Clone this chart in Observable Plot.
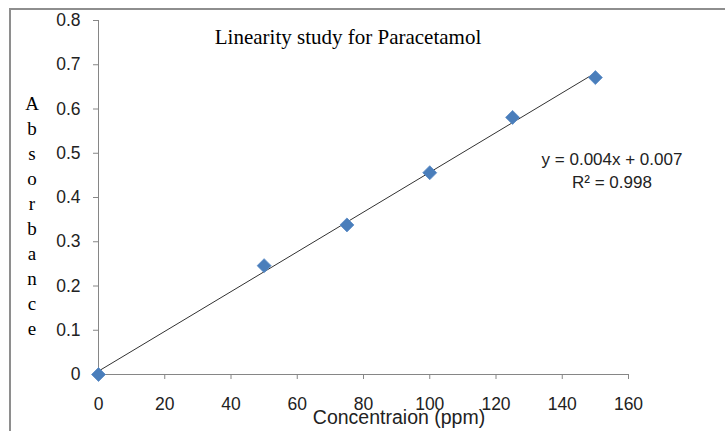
<!DOCTYPE html>
<html>
<head>
<meta charset="utf-8">
<script src="https://cdn.jsdelivr.net/npm/d3@7"></script>
<script src="https://cdn.jsdelivr.net/npm/@observablehq/plot@0.6"></script>
<style>
  html, body { margin: 0; padding: 0; background: #fff; overflow: hidden; }
  #wrap { position: relative; width: 725px; height: 431px; overflow: hidden; background: #fff; }
  #frame { position: absolute; left: 9px; top: 8px; width: 800px; height: 500px; border: 2px solid #8e8e8e; box-sizing: border-box; }
  #chart { position: absolute; left: 0; top: 0; }
  .ov { position: absolute; white-space: nowrap; color: #000; }
  #title { left: 348px; top: 25px; transform: translateX(-50%); font-family: "Liberation Serif", serif; font-size: 21px; }
  #ylabel { left: 23px; top: 91px; width: 18px; text-align: center; font-family: "Liberation Serif", serif; font-size: 19px; line-height: 25px; }
  #xlabel { left: 399px; top: 406px; transform: translateX(-50%); font-family: "Liberation Sans", sans-serif; font-size: 19.5px; color: #222; }
  #eq { left: 612px; top: 148px; transform: translateX(-50%); text-align: center; font-family: "Liberation Sans", sans-serif; font-size: 17px; line-height: 23px; color: #222; }
</style>
</head>
<body>
<div id="wrap">
  <div id="frame"></div>
  <div id="chart"></div>
  <div class="ov" id="title"></div>
  <div class="ov" id="ylabel"></div>
  <div class="ov" id="xlabel"></div>
  <div class="ov" id="eq"></div>
</div>
<script>
const concentration = [0, 50, 75, 100, 125, 150];
const absorbance = [0, 0.246, 0.338, 0.456, 0.581, 0.671];
const xTicks = [0, 20, 40, 60, 80, 100, 120, 140, 160];
const yTicks = [0, 0.1, 0.2, 0.3, 0.4, 0.5, 0.6, 0.7, 0.8];
const titleText = "Linearity study for Paracetamol";
const yLabelText = "Absorbance";
const xLabelText = "Concentraion (ppm)";
const equationLines = ["y = 0.004x + 0.007", "R² = 0.998"];

const data = concentration.map((c, i) => ({c, a: absorbance[i]}));
const axisColor = "#868686";

const chart = Plot.plot({
  width: 725,
  height: 431,
  marginLeft: 98,
  marginRight: 97,
  marginTop: 20,
  marginBottom: 57,
  style: {fontFamily: "'Liberation Sans', sans-serif", fontSize: "17.5px", color: "#222", background: "transparent"},
  x: {domain: [0, 160], ticks: xTicks, label: null},
  y: {domain: [0, 0.8], ticks: yTicks, label: null},
  marks: [
    Plot.ruleY([0], {stroke: axisColor, strokeWidth: 1}),
    Plot.ruleX([0], {stroke: axisColor, strokeWidth: 1}),
    Plot.axisX({ticks: xTicks, tickSize: 5, tickPadding: 18, stroke: axisColor, fill: "#222", label: null, tickFormat: d => String(d)}),
    Plot.axisY({ticks: yTicks, tickSize: 5, tickPadding: 13, stroke: axisColor, fill: "#222", label: null, tickFormat: d => d === 0 ? "0" : d.toFixed(1)}),
    Plot.linearRegressionY(data, {x: "c", y: "a", ci: 0, stroke: "#333", strokeWidth: 1}),
    Plot.dot(data, {x: "c", y: "a", symbol: "diamond2", r: 6.3, fill: "#4a7ebb", stroke: "#5b8cc6", strokeWidth: 0.8})
  ]
});
document.getElementById("chart").appendChild(chart);
document.getElementById("title").textContent = titleText;
document.getElementById("ylabel").innerHTML = yLabelText.split("").join("<br>");
document.getElementById("xlabel").textContent = xLabelText;
document.getElementById("eq").innerHTML = equationLines.join("<br>");
</script>
</body>
</html>
